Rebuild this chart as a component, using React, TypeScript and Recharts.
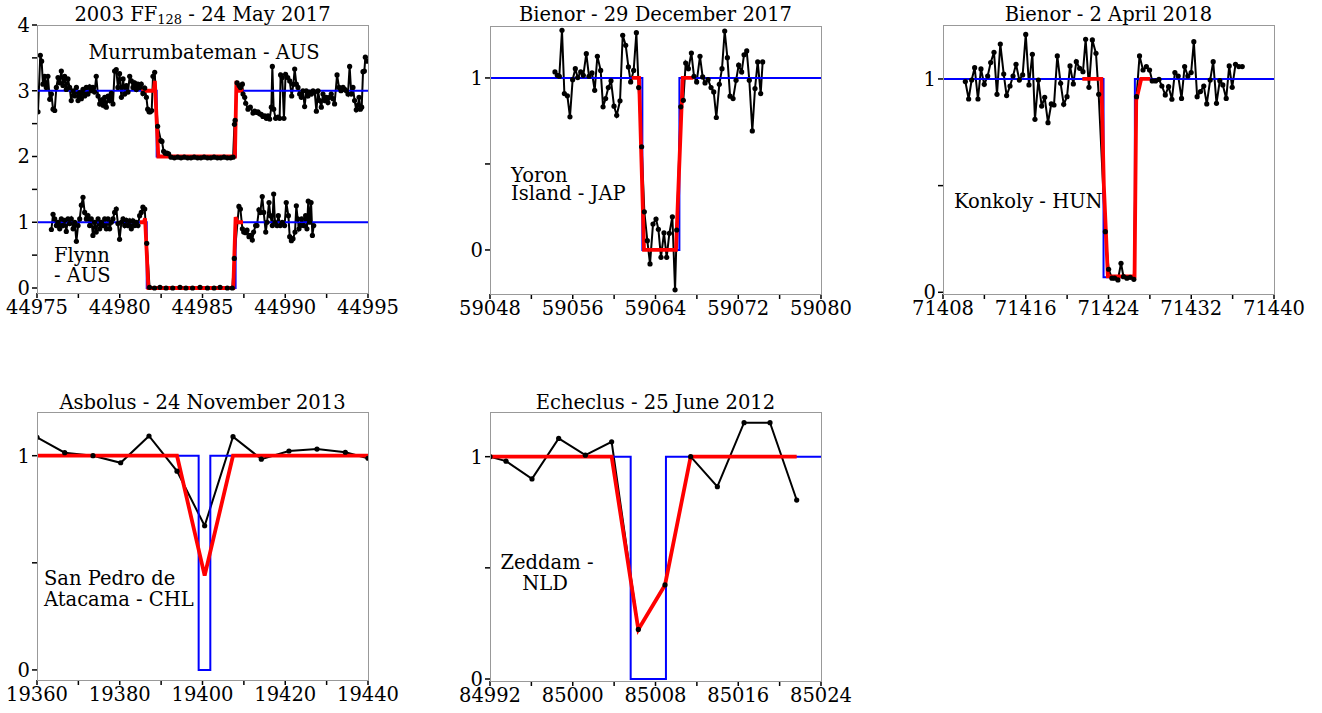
import React from 'react'
import { LineChart, Line, XAxis, YAxis } from 'recharts'

type Pair = [number, number]

// ---- 2003 FF128 - 24 May 2017 ----
const MURR_OBS: Pair[] = [
  [44975.06, 2.68], [44975.2, 3.54], [44975.28, 3.45], [44975.36, 3.1], [44975.46, 3.22], [44975.56, 3.05],
  [44975.66, 3.22], [44975.77, 2.87], [44975.87, 2.95], [44975.97, 2.72], [44976.07, 2.7], [44976.17, 3.05],
  [44976.27, 3.2], [44976.37, 3.12], [44976.47, 3.3], [44976.57, 3.08], [44976.67, 3.22], [44976.77, 3.02],
  [44976.87, 3.18], [44976.97, 3.05], [44977.07, 2.85], [44977.18, 3.0], [44977.28, 2.92], [44977.38, 3.05],
  [44977.48, 2.85], [44977.58, 2.97], [44977.68, 2.88], [44977.78, 3.02], [44977.88, 2.92], [44977.98, 3.05],
  [44978.08, 2.95], [44978.18, 3.06], [44978.28, 3.0], [44978.38, 3.05], [44978.48, 2.98], [44978.58, 3.22],
  [44978.69, 2.92], [44978.79, 2.8], [44978.89, 2.86], [44978.99, 2.78], [44979.09, 2.9], [44979.19, 2.75],
  [44979.29, 2.92], [44979.39, 2.85], [44979.49, 2.96], [44979.59, 2.8], [44979.69, 3.3], [44979.79, 3.32],
  [44979.89, 3.05], [44979.99, 3.26], [44980.1, 2.9], [44980.2, 3.18], [44980.3, 2.95], [44980.4, 3.08],
  [44980.5, 2.98], [44980.6, 3.22], [44980.7, 3.15], [44980.8, 3.05], [44980.9, 3.12], [44981.0, 3.02],
  [44981.1, 3.1], [44981.2, 3.05], [44981.3, 3.1], [44981.4, 2.96], [44981.51, 3.04], [44981.61, 2.9],
  [44981.69, 2.72], [44981.77, 2.68], [44981.85, 2.68], [44981.93, 2.7], [44982.01, 3.22], [44982.11, 3.28],
  [44982.29, 2.46], [44982.49, 2.24], [44982.55, 2.23], [44982.65, 2.08], [44982.75, 2.05], [44982.85, 2.05],
  [44982.95, 2.04], [44983.1, 1.99], [44983.3, 1.98], [44983.5, 1.99], [44983.7, 1.98], [44983.9, 1.99],
  [44984.1, 1.98], [44984.3, 1.98], [44984.5, 1.99], [44984.7, 1.98], [44984.9, 1.98], [44985.1, 1.99],
  [44985.3, 1.98], [44985.5, 1.98], [44985.7, 1.99], [44985.9, 1.98], [44986.1, 1.98], [44986.3, 1.99],
  [44986.5, 1.98], [44986.7, 1.98], [44986.85, 1.99], [44986.93, 2.49], [44986.97, 2.55], [44987.09, 3.12],
  [44987.21, 3.08], [44987.29, 3.05], [44987.41, 3.1], [44987.45, 2.95], [44987.55, 2.9], [44987.61, 2.81],
  [44987.75, 2.72], [44987.89, 2.75], [44988.05, 2.66], [44988.15, 2.69], [44988.25, 2.67], [44988.35, 2.68],
  [44988.45, 2.65], [44988.55, 2.64], [44988.65, 2.61], [44988.76, 2.62], [44988.86, 2.58], [44988.96, 2.62],
  [44989.06, 2.57], [44989.16, 2.75], [44989.22, 3.37], [44989.3, 2.72], [44989.42, 2.58], [44989.56, 2.6],
  [44989.66, 2.58], [44989.72, 3.24], [44989.82, 3.2], [44989.92, 2.58], [44990.02, 3.25], [44990.15, 3.2],
  [44990.27, 3.15], [44990.39, 2.92], [44990.49, 3.1], [44990.57, 3.33], [44990.67, 3.1], [44990.77, 3.05],
  [44990.87, 2.95], [44990.97, 2.9], [44991.07, 3.0], [44991.17, 2.76], [44991.27, 3.0], [44991.37, 2.92],
  [44991.47, 2.98], [44991.58, 2.95], [44991.68, 3.0], [44991.78, 2.98], [44991.88, 2.69], [44991.98, 3.0],
  [44992.08, 2.85], [44992.18, 2.75], [44992.28, 2.95], [44992.38, 2.85], [44992.48, 2.9], [44992.58, 2.82],
  [44992.68, 2.9], [44992.78, 2.95], [44992.88, 2.88], [44992.98, 2.8], [44993.13, 3.24], [44993.25, 3.05],
  [44993.37, 3.0], [44993.49, 3.05], [44993.59, 3.02], [44993.69, 3.0], [44993.79, 2.95], [44993.89, 3.37],
  [44993.99, 2.95], [44994.09, 3.05], [44994.19, 2.85], [44994.29, 2.71], [44994.4, 2.78], [44994.46, 2.9],
  [44994.54, 2.72], [44994.62, 2.75], [44994.7, 3.29], [44994.78, 3.3], [44994.84, 3.51], [44994.94, 3.45],
]
const MURR_SQUARE: Pair[] = [[44975, 3], [44982.23, 3], [44982.23, 2], [44987.02, 2], [44987.02, 3], [44995, 3]]
const MURR_FIT: Pair[] = [
  [44981.3, 3], [44982.05, 3], [44982.12, 3.15], [44982.33, 2], [44986.96, 2], [44987.05, 3.15], [44987.12, 3], [44987.47, 3],
]

const FLYNN_OBS: Pair[] = [
  [44975.87, 0.89], [44975.97, 1.12], [44976.07, 1.05], [44976.17, 0.95], [44976.27, 1.0], [44976.37, 0.9],
  [44976.47, 1.05], [44976.57, 0.95], [44976.67, 1.03], [44976.77, 0.86], [44976.87, 1.05], [44976.97, 0.98],
  [44977.07, 1.05], [44977.18, 0.9], [44977.28, 1.0], [44977.38, 0.71], [44977.48, 0.95], [44977.58, 1.05],
  [44977.68, 1.26], [44977.78, 1.38], [44977.88, 1.15], [44977.98, 1.05], [44978.08, 1.1], [44978.18, 0.95],
  [44978.28, 1.05], [44978.38, 0.8], [44978.48, 1.0], [44978.58, 0.85], [44978.69, 1.05], [44978.79, 0.9],
  [44978.89, 1.0], [44978.99, 0.95], [44979.09, 1.05], [44979.19, 0.9], [44979.29, 1.05], [44979.39, 0.9],
  [44979.49, 1.0], [44979.59, 1.05], [44979.69, 1.15], [44979.79, 1.2], [44979.89, 0.98], [44979.99, 0.74],
  [44980.1, 1.0], [44980.2, 1.05], [44980.3, 0.95], [44980.4, 1.03], [44980.5, 0.95], [44980.6, 1.02],
  [44980.7, 0.9], [44980.8, 1.02], [44980.9, 0.95], [44981.0, 1.0], [44981.1, 0.95], [44981.2, 1.1],
  [44981.3, 1.15], [44981.4, 1.23], [44981.51, 1.2], [44981.63, 0.68], [44981.8, 0.01], [44982.1, 0.0],
  [44982.43, 0.01], [44982.8, 0.0], [44983.2, 0.0], [44983.64, 0.01], [44984.0, 0.0], [44984.4, 0.0],
  [44984.85, 0.01], [44985.3, 0.0], [44985.7, 0.0], [44986.06, 0.01], [44986.5, 0.0], [44986.8, 0.0],
  [44986.92, 0.45], [44987.2, 1.24], [44987.29, 1.2], [44987.41, 0.9], [44987.49, 0.85], [44987.61, 0.84],
  [44987.69, 0.88], [44987.81, 0.78], [44987.89, 0.8], [44988.01, 0.73], [44988.09, 0.85], [44988.21, 0.95],
  [44988.29, 0.95], [44988.41, 1.19], [44988.49, 1.15], [44988.61, 1.39], [44988.7, 1.15], [44988.82, 0.85],
  [44988.9, 1.0], [44989.02, 1.3], [44989.1, 1.1], [44989.22, 0.95], [44989.3, 1.43], [44989.38, 1.0],
  [44989.5, 0.95], [44989.58, 1.1], [44989.7, 0.95], [44989.82, 1.0], [44989.96, 0.95], [44990.06, 1.3],
  [44990.19, 1.1], [44990.27, 0.78], [44990.37, 0.72], [44990.47, 0.75], [44990.59, 0.85], [44990.67, 1.25],
  [44990.75, 1.05], [44990.83, 0.9], [44990.91, 0.95], [44990.99, 1.05], [44991.11, 0.95], [44991.23, 1.1],
  [44991.31, 0.9], [44991.39, 1.32], [44991.47, 1.0], [44991.56, 1.3], [44991.64, 0.8], [44991.72, 0.95],
]
const FLYNN_SQUARE: Pair[] = [[44975, 1], [44981.63, 1], [44981.63, 0], [44987.0, 0], [44987.0, 1], [44995, 1]]
const FLYNN_FIT: Pair[] = [
  [44981.22, 1], [44981.45, 1], [44981.53, 1.06], [44981.73, 0], [44986.86, 0], [44987.0, 1.08], [44987.1, 1], [44987.45, 1],
]

const FF_X_TICKS = [44975, 44977.5, 44980, 44982.5, 44985, 44987.5, 44990, 44992.5, 44995]
const FF_X_LABELS = [44975, 44980, 44985, 44990, 44995]
const FF_Y_TICKS = [0, 0.5, 1, 1.5, 2, 2.5, 3, 3.5, 4]
const FF_Y_LABELS = [0, 1, 2, 3, 4]

// ---- Bienor - 29 December 2017 ----
const YORON_OBS: Pair[] = [
  [59054.28, 1.035], [59054.51, 1.015], [59054.7, 1.01], [59054.96, 1.277], [59055.19, 0.909], [59055.48, 0.896],
  [59055.73, 0.774], [59055.99, 0.99], [59056.25, 1.054], [59056.48, 1.002], [59056.77, 1.035], [59057.02, 1.015],
  [59057.31, 1.141], [59057.57, 1.01], [59057.86, 1.029], [59058.12, 0.928], [59058.38, 1.126], [59058.7, 1.044],
  [59058.93, 0.832], [59059.18, 0.88], [59059.44, 0.944], [59059.7, 0.983], [59059.99, 0.836], [59060.25, 0.783],
  [59060.57, 0.867], [59060.83, 1.248], [59061.12, 1.19], [59061.38, 1.064], [59061.6, 0.977], [59061.89, 1.044],
  [59062.15, 1.263], [59062.37, 0.944], [59062.66, 0.6], [59062.92, 0.222], [59063.21, 0.054], [59063.47, -0.081],
  [59063.76, 0.151], [59064.05, 0.18], [59064.28, 0.12], [59064.53, -0.043], [59064.82, 0.1], [59065.08, -0.043],
  [59065.34, 0.097], [59065.63, 0.193], [59065.89, -0.232], [59066.05, 0.116], [59066.44, 0.832], [59066.69, 0.87],
  [59066.92, 1.087], [59067.18, 1.054], [59067.47, 1.145], [59067.72, 1.01], [59067.98, 0.977], [59068.3, 1.126],
  [59068.56, 1.006], [59068.79, 0.971], [59069.08, 0.99], [59069.37, 0.944], [59069.63, 0.919], [59069.88, 0.77],
  [59070.17, 0.963], [59070.43, 1.054], [59070.69, 1.273], [59070.95, 1.118], [59071.21, 0.894], [59071.5, 0.88],
  [59071.79, 0.986], [59072.04, 1.074], [59072.33, 1.035], [59072.56, 1.135], [59072.82, 1.157], [59073.07, 0.986],
  [59073.36, 0.692], [59073.62, 0.938], [59073.88, 1.093], [59074.17, 0.909], [59074.36, 1.093],
]
const YORON_SQUARE: Pair[] = [[59048, 1], [59062.73, 1], [59062.73, 0], [59066.31, 0], [59066.31, 1], [59080, 1]]
const YORON_FIT: Pair[] = [[59061.7, 1], [59062.41, 1], [59062.89, 0], [59065.98, 0], [59066.63, 1], [59067.66, 1]]

const BD_X_TICKS = [59048, 59052, 59056, 59060, 59064, 59068, 59072, 59076, 59080]
const BD_X_LABELS = [59048, 59056, 59064, 59072, 59080]

// ---- Bienor - 2 April 2018 ----
const KONKOLY_OBS: Pair[] = [
  [71410.16, 0.988], [71410.48, 0.906], [71410.77, 0.995], [71411.06, 1.053], [71411.38, 0.906], [71411.67, 1.047],
  [71411.99, 0.975], [71412.32, 1.014], [71412.61, 1.077], [71412.93, 1.125], [71413.22, 0.928], [71413.54, 1.164],
  [71413.87, 1.023], [71414.15, 0.922], [71414.48, 0.967], [71414.77, 1.014], [71415.06, 1.069], [71415.38, 0.995],
  [71415.7, 1.019], [71416.0, 1.209], [71416.31, 0.972], [71416.64, 1.116], [71416.89, 0.811], [71417.22, 0.995],
  [71417.54, 0.873], [71417.83, 0.914], [71418.15, 0.795], [71418.47, 0.883], [71418.73, 0.878], [71419.05, 1.108],
  [71419.37, 0.98], [71419.67, 0.881], [71419.99, 0.917], [71420.28, 1.061], [71420.6, 0.977], [71420.89, 1.081],
  [71421.21, 1.05], [71421.53, 1.034], [71421.79, 1.186], [71422.11, 0.961], [71422.44, 1.183], [71422.79, 1.12],
  [71423.05, 0.928], [71423.69, 0.284], [71424.01, 0.108], [71424.33, 0.066], [71424.59, 0.066], [71424.91, 0.058],
  [71425.21, 0.136], [71425.45, 0.073], [71425.78, 0.066], [71426.1, 0.07], [71426.45, 0.061], [71426.71, 0.917],
  [71427.0, 1.108], [71427.34, 1.042], [71427.66, 1.058], [71427.97, 1.042], [71428.23, 0.991], [71428.55, 0.991],
  [71428.88, 0.998], [71429.16, 0.967], [71429.49, 0.925], [71429.81, 0.964], [71430.13, 0.905], [71430.42, 1.03],
  [71430.74, 1.014], [71431.06, 0.909], [71431.36, 1.058], [71431.67, 1.014], [71431.99, 1.03], [71432.25, 1.175],
  [71432.57, 0.917], [71432.89, 0.941], [71433.21, 0.967], [71433.5, 0.883], [71433.83, 0.995], [71434.12, 1.081],
  [71434.44, 0.886], [71434.76, 0.992], [71435.05, 0.972], [71435.38, 0.909], [71435.67, 1.061], [71435.96, 0.961],
  [71436.28, 1.069], [71436.6, 1.058], [71436.93, 1.058],
]
const KONKOLY_SQUARE: Pair[] = [[71408, 1], [71423.52, 1], [71423.52, 0.07], [71426.55, 0.07], [71426.55, 1], [71440, 1]]
const KONKOLY_FIT: Pair[] = [
  [71421.47, 1], [71423.31, 1], [71423.55, 0.5], [71423.94, 0.075], [71426.52, 0.075], [71426.68, 0.9], [71427.16, 1], [71428.03, 1],
]

const BA_X_TICKS = [71408, 71412, 71416, 71420, 71424, 71428, 71432, 71436, 71440]
const BA_X_LABELS = [71408, 71416, 71424, 71432, 71440]

// ---- Asbolus - 24 November 2013 ----
const ATACAMA_OBS: Pair[] = [
  [19360, 1.086], [19366.69, 1.014], [19373.53, 1.0], [19380.22, 0.967], [19387.07, 1.092], [19393.84, 0.928],
  [19400.52, 0.673], [19407.37, 1.089], [19414.22, 0.984], [19420.9, 1.022], [19427.67, 1.031], [19434.52, 1.016],
  [19440, 0.988],
]
const ATACAMA_SQUARE: Pair[] = [[19360, 1], [19399.07, 1], [19399.07, 0], [19401.89, 0], [19401.89, 1], [19440, 1]]
const ATACAMA_FIT: Pair[] = [[19360, 1], [19393.84, 1], [19400.52, 0.44], [19407.37, 1], [19440, 1]]

const AS_X_TICKS = [19360, 19370, 19380, 19390, 19400, 19410, 19420, 19430, 19440]
const AS_X_LABELS = [19360, 19380, 19400, 19420, 19440]

// ---- Echeclus - 25 June 2012 ----
const ZEDDAM_OBS: Pair[] = [
  [84992, 1.0], [84993.55, 0.98], [84996.06, 0.9], [84998.64, 1.082], [85001.22, 1.007], [85003.76, 1.067],
  [85006.34, 0.223], [85008.92, 0.423], [85011.4, 1.0], [85013.98, 0.865], [85016.56, 1.153], [85019.07, 1.153],
  [85021.65, 0.805],
]
const ZEDDAM_SQUARE: Pair[] = [[84992, 1], [85005.6, 1], [85005.6, 0], [85009.01, 0], [85009.01, 1], [85024, 1]]
const ZEDDAM_FIT: Pair[] = [[84992, 1], [85003.76, 1], [85006.34, 0.223], [85008.92, 0.423], [85011.4, 1], [85021.65, 1]]

const EC_X_TICKS = [84992, 84996, 85000, 85004, 85008, 85012, 85016, 85020, 85024]
const EC_X_LABELS = [84992, 85000, 85008, 85016, 85024]

const UNIT_Y_TICKS = [0, 0.5, 1]
const UNIT_Y_LABELS = [0, 1]

const FONT = '"DejaVu Serif", serif'
const FS = 19.5
const FRAME = '#999'

const pts = (a: Pair[]) => a.map(([t, v]) => ({ t, v }))

interface PanelProps {
  left: number
  top: number
  w: number
  h: number
  xDomain: [number, number]
  yDomain: [number, number]
  xTicks: number[]
  xLabels: number[]
  yTicks: number[]
  yLabels: number[]
  obs: Pair[][]
  square: Pair[][]
  fit: Pair[][]
}

const PAD_L = 50
const PAD_T = 10
const PAD_R = 40
const PAD_B = 35

function Panel(p: PanelProps) {
  return (
    <div style={{ position: 'absolute', left: p.left - PAD_L, top: p.top - PAD_T }}>
      <LineChart
        width={p.w + PAD_L + PAD_R}
        height={p.h + PAD_T + PAD_B}
        margin={{ top: PAD_T, right: PAD_R, left: 0, bottom: 0 }}
      >
        <XAxis
          type="number"
          dataKey="t"
          domain={p.xDomain}
          allowDataOverflow
          ticks={p.xTicks}
          interval={0}
          height={PAD_B}
          axisLine={false}
          tickSize={5}
          tickMargin={2}
          tickLine={{ stroke: '#000', strokeWidth: 1.5 }}
          tick={{ fill: '#000', fontSize: FS, fontFamily: FONT }}
          tickFormatter={(v: number) => (p.xLabels.includes(v) ? String(v) : '')}
        />
        <YAxis
          type="number"
          dataKey="v"
          domain={p.yDomain}
          allowDataOverflow
          ticks={p.yTicks}
          interval={0}
          width={PAD_L}
          axisLine={false}
          tickSize={5}
          tickMargin={2}
          tickLine={{ stroke: '#000', strokeWidth: 1.5 }}
          tick={{ fill: '#000', fontSize: FS, fontFamily: FONT }}
          tickFormatter={(v: number) => (p.yLabels.includes(v) ? String(v) : '')}
        />
        {p.obs.map((d, i) => (
          <Line
            key={'o' + i}
            data={pts(d)}
            dataKey="v"
            type="linear"
            stroke="#000"
            strokeWidth={2}
            dot={{ r: 2.6, fill: '#000', stroke: 'none' }}
            isAnimationActive={false}
          />
        ))}
        {p.square.map((d, i) => (
          <Line
            key={'s' + i}
            data={pts(d)}
            dataKey="v"
            type="linear"
            stroke="#0000ff"
            strokeWidth={2}
            dot={false}
            isAnimationActive={false}
          />
        ))}
        {p.fit.map((d, i) => (
          <Line
            key={'f' + i}
            data={pts(d)}
            dataKey="v"
            type="linear"
            stroke="#ff0000"
            strokeWidth={3.8}
            dot={false}
            isAnimationActive={false}
          />
        ))}
      </LineChart>
    </div>
  )
}

const PANELS = [
  { left: 37, top: 25, w: 331, h: 268 },
  { left: 490, top: 26, w: 331, h: 268 },
  { left: 943, top: 25, w: 331, h: 269 },
  { left: 37, top: 412, w: 331, h: 268 },
  { left: 490, top: 412, w: 331, h: 269 },
]

export default function App() {
  const txt = { fontFamily: FONT, fontSize: FS, fill: '#000' }
  return (
    <div style={{ position: 'absolute', left: 0, top: 0, width: 1322, height: 713, background: '#fff', overflow: 'hidden' }}>
      <Panel {...PANELS[0]} xDomain={[44975, 44995]} yDomain={[-0.076, 4]} xTicks={FF_X_TICKS} xLabels={FF_X_LABELS}
        yTicks={FF_Y_TICKS} yLabels={FF_Y_LABELS} obs={[MURR_OBS, FLYNN_OBS]} square={[MURR_SQUARE, FLYNN_SQUARE]}
        fit={[MURR_FIT, FLYNN_FIT]} />
      <Panel {...PANELS[1]} xDomain={[59048, 59080]} yDomain={[-0.256, 1.302]} xTicks={BD_X_TICKS} xLabels={BD_X_LABELS}
        yTicks={UNIT_Y_TICKS} yLabels={UNIT_Y_LABELS} obs={[YORON_OBS]} square={[YORON_SQUARE]} fit={[YORON_FIT]} />
      <Panel {...PANELS[2]} xDomain={[71408, 71440]} yDomain={[-0.008, 1.253]} xTicks={BA_X_TICKS} xLabels={BA_X_LABELS}
        yTicks={UNIT_Y_TICKS} yLabels={UNIT_Y_LABELS} obs={[KONKOLY_OBS]} square={[KONKOLY_SQUARE]} fit={[KONKOLY_FIT]} />
      <Panel {...PANELS[3]} xDomain={[19360, 19440]} yDomain={[-0.047, 1.204]} xTicks={AS_X_TICKS} xLabels={AS_X_LABELS}
        yTicks={UNIT_Y_TICKS} yLabels={UNIT_Y_LABELS} obs={[ATACAMA_OBS]} square={[ATACAMA_SQUARE]} fit={[ATACAMA_FIT]} />
      <Panel {...PANELS[4]} xDomain={[84992, 85024]} yDomain={[-0.009, 1.201]} xTicks={EC_X_TICKS} xLabels={EC_X_LABELS}
        yTicks={UNIT_Y_TICKS} yLabels={UNIT_Y_LABELS} obs={[ZEDDAM_OBS]} square={[ZEDDAM_SQUARE]} fit={[ZEDDAM_FIT]} />

      <svg width={1322} height={713} style={{ position: 'absolute', left: 0, top: 0, pointerEvents: 'none' }}>
        {PANELS.map((b, i) => (
          <rect key={i} x={b.left + 0.5} y={b.top + 0.5} width={b.w} height={b.h} fill="none" stroke={FRAME} strokeWidth={1} />
        ))}
        <g {...txt} textAnchor="middle" dominantBaseline="central">
          <text x={202.5} y={14}>
            2003 FF<tspan fontSize={13} dy={5}>128</tspan><tspan dy={-5}> - 24 May 2017</tspan>
          </text>
          <text x={655.5} y={14}>Bienor - 29 December 2017</text>
          <text x={1108.5} y={14}>Bienor - 2 April 2018</text>
          <text x={202.5} y={402}>Asbolus - 24 November 2013</text>
          <text x={655.5} y={402}>Echeclus - 25 June 2012</text>
          <text x={204} y={52}>Murrumbateman - AUS</text>
          <text x={547} y={562}>Zeddam -</text>
          <text x={545} y={583}>NLD</text>
        </g>
        <g {...txt} textAnchor="start" dominantBaseline="central">
          <text x={54} y={255}>Flynn</text>
          <text x={54} y={275}>- AUS</text>
          <text x={511} y={175}>Yoron</text>
          <text x={511} y={193}>Island - JAP</text>
          <text x={954} y={201}>Konkoly - HUN</text>
          <text x={44} y={578}>San Pedro de</text>
          <text x={44} y={599}>Atacama - CHL</text>
        </g>
      </svg>
    </div>
  )
}
